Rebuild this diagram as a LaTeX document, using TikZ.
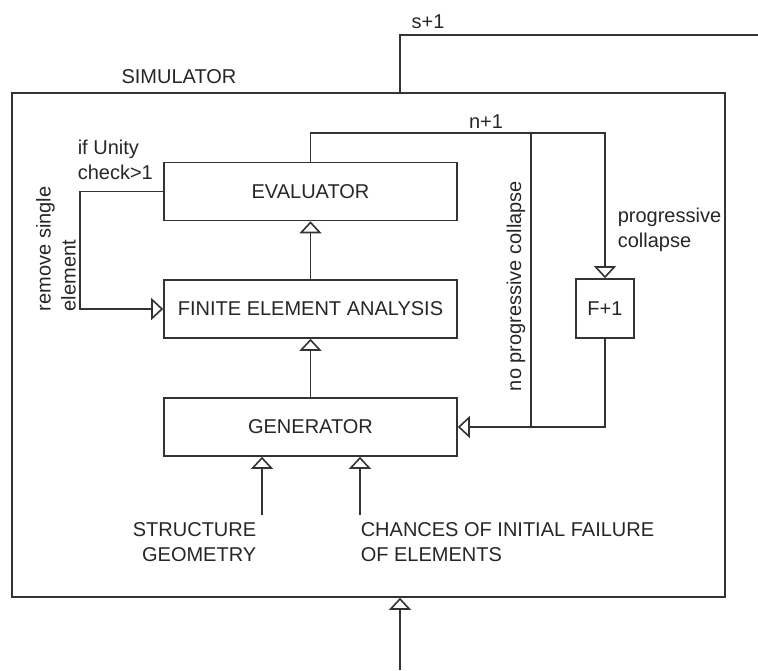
\documentclass[tikz,border=0pt]{standalone}
\usepackage{fontspec}
\setmainfont{Liberation Sans}
\usetikzlibrary{arrows.meta}
\begin{document}
\begin{tikzpicture}[x=1pt,y=-1pt,line width=1.6pt,draw=black!80,
  every node/.style={font=\fontsize{20}{25}\selectfont,text=black!85},
  block/.style={draw=black!80,minimum width=293pt,minimum height=58pt,inner sep=0pt},
  lbl/.style={align=left,inner sep=0pt},
  opentip/.style={-{Triangle[open,width=22pt,length=12pt]}}]
  \useasboundingbox (0,0) rectangle (758,670);
  % simulator frame
  \node[draw=black!80,minimum width=713pt,minimum height=504pt,inner sep=0pt] (sim) at (368.5,345) {};
  \node (simlabel) at (179,77) {SIMULATOR};
  % blocks
  \node[block] (eval) at (310.5,191.5) {EVALUATOR};
  \node[block] (fea) at (310.5,309) {FINITE ELEMENT ANALYSIS};
  \node[block] (gen) at (310.5,427) {GENERATOR};
  \node[draw=black!80,minimum width=58pt,minimum height=59pt,inner sep=0pt] (fail) at (605,308.5) {F+1};
  % main chain
  \draw[opentip] (gen) -- (fea);
  \draw[opentip] (fea) -- (eval);
  % remove single element loop
  \coordinate (rl) at (80,191.5);
  \draw[opentip] (eval.west) -- (rl) |- (fea.west);
  \node[lbl,anchor=west] (unity) at (77,159.5) {if Unity\\check>1};
  \node[lbl,rotate=90,anchor=west] (remove) at (56,312) {remove single\\element};
  % n+1 loop
  \coordinate (nn) at (531,133);
  \coordinate (nb) at (531,427);
  \draw[opentip] (eval.north) |- (nn) -| (fail.north);
  \draw (nn) -- (nb);
  \draw[opentip] (fail.south) |- (gen.east);
  \node (nlabel) at (486,122) {n+1};
  \node[rotate=90] (noprog) at (516,286) {no progressive collapse};
  \node[lbl,anchor=west] (prog) at (617,229.5) {progressive\\collapse};
  % inputs of the generator
  \coordinate (sg) at (262,515);
  \coordinate (ch) at (360,515);
  \draw[opentip] (sg) -- (sg |- gen.south);
  \draw[opentip] (ch) -- (ch |- gen.south);
  \node[lbl,align=right,anchor=north east] (geom) at (257,522) {STRUCTURE\\GEOMETRY};
  \node[lbl,anchor=north west] (chances) at (360,522) {CHANCES OF INITIAL FAILURE\\OF ELEMENTS};
  % s+1 loop
  \coordinate (in) at (400,670);
  \coordinate (sout) at (758,35);
  \draw[opentip] (in) -- (in |- sim.south);
  \draw (in |- sim.north) |- (sout);
  \node (slabel) at (428,22) {s+1};
\end{tikzpicture}
\end{document}
